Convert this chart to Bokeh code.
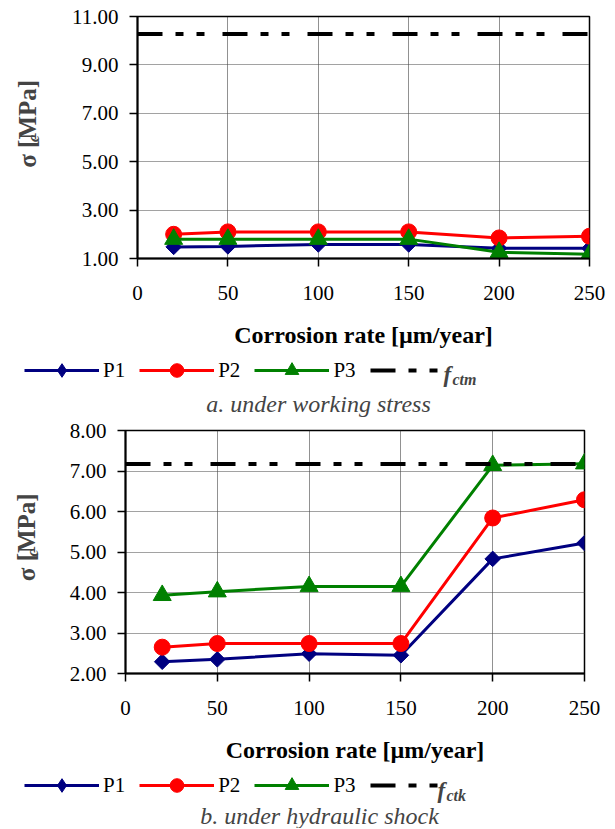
import numpy as np
from bokeh.plotting import figure
from bokeh.models import (FixedTicker, PrintfTickFormatter, Label, Legend,
                          LegendItem, Range1d)
from bokeh.layouts import column, row
from bokeh.embed import file_html
from bokeh.resources import INLINE

# ---------------- data ----------------
rates = [20, 50, 100, 150, 200, 250]
x_ticks = [0, 50, 100, 150, 200, 250]

a_p1 = [1.48, 1.50, 1.58, 1.58, 1.42, 1.42]
a_p2 = [2.00, 2.10, 2.10, 2.10, 1.85, 1.92]
a_p3 = [1.80, 1.80, 1.80, 1.80, 1.26, 1.18]
a_fctm = [10.28, 10.28]
a_yticks = [1, 3, 5, 7, 9, 11]

b_p1 = [2.29, 2.35, 2.49, 2.45, 4.83, 5.22]
b_p2 = [2.65, 2.74, 2.74, 2.74, 5.84, 6.29]
b_p3 = [3.93, 4.02, 4.15, 4.15, 7.14, 7.18]
b_fctk = [7.17, 7.17]
b_yticks = [2, 3, 4, 5, 6, 7, 8]

series_names = ["P1", "P2", "P3"]
colors = ["#000080", "#FF0000", "#008000"]
markers = ["square", "circle", "triangle"]
legend_markers = ["diamond", "circle", "triangle"]
marker_sizes = [11, 16, 18]
marker_angles = [np.pi / 4, 0, 0]

FONT = "Liberation Serif"
DASH = "25 13 8 13 8 18"
PAGE_W = 615
YT_W = 58                 # width of the y-title strip
MAIN_W = PAGE_W - YT_W    # width of the plot figure


def blank(width, height, x0, y0, mb_left=0, mb_top=0):
    """A figure without axes whose data units are page pixels."""
    f = figure(width=width, height=height, output_backend="svg",
               toolbar_location=None, x_axis_type=None, y_axis_type=None,
               min_border_left=mb_left, min_border_right=0,
               min_border_top=mb_top, min_border_bottom=0,
               x_range=Range1d(x0 + mb_left, x0 + width),
               y_range=Range1d(y0 + height, y0 + mb_top),
               outline_line_color=None, background_fill_color="white",
               border_fill_color="white")
    return f


def main_plot(height, mb_left, mb_right, mb_top, mb_bottom, yticks, ys, fvals):
    p = figure(width=MAIN_W, height=height,
               x_range=Range1d(x_ticks[0], x_ticks[-1]),
               y_range=Range1d(yticks[0], yticks[-1]), output_backend="svg",
               toolbar_location=None, min_border_left=mb_left,
               min_border_right=mb_right, min_border_top=mb_top,
               min_border_bottom=mb_bottom, background_fill_color="white",
               border_fill_color="white")
    p.xaxis.ticker = FixedTicker(ticks=x_ticks)
    p.yaxis.ticker = FixedTicker(ticks=yticks)
    p.yaxis.formatter = PrintfTickFormatter(format="%.2f")
    for ax in (p.xaxis, p.yaxis):
        ax.major_tick_out = 8
        ax.major_tick_in = 0
        ax.minor_tick_out = 0
        ax.minor_tick_in = 0
        ax.axis_line_width = 2
        ax.axis_line_color = "black"
        ax.major_tick_line_color = "black"
        ax.major_tick_line_width = 1.5
        ax.major_label_text_font = FONT
        ax.major_label_text_font_size = "21px"
        ax.major_label_text_color = "black"
    p.xaxis.major_label_standoff = 19
    p.yaxis.major_label_standoff = 11
    p.xaxis.axis_label = "Corrosion rate [µm/year]"
    p.xaxis.axis_label_text_font = FONT
    p.xaxis.axis_label_text_font_style = "bold"
    p.xaxis.axis_label_text_font_size = "24px"
    p.xaxis.axis_label_text_color = "black"
    p.xaxis.axis_label_standoff = 19

    p.xgrid.grid_line_color = "#222222"
    p.xgrid.grid_line_dash = "1 1"
    p.ygrid.grid_line_color = "#444444"
    p.ygrid.grid_line_dash = "1 1"
    p.outline_line_color = "black"
    p.outline_line_width = 1.5
    p.outline_line_alpha = 1

    for col, yv, mk, sz, ang in zip(colors, ys, markers, marker_sizes, marker_angles):
        p.line(rates, yv, line_color=col, line_width=3)
        p.scatter(rates, yv, marker=mk, size=sz, angle=ang,
                  fill_color=col, line_color=col)
    p.line([x_ticks[0], x_ticks[-1]], fvals, line_color="black",
           line_width=4, line_dash=DASH)
    return p


def y_title(height, y0, x_c, y_main, y_c):
    f = blank(YT_W, height, 0, y0)
    f.add_layout(Label(x=x_c, y=y_main, text="σ  [MPa]", angle=np.pi / 2,
                       text_font=FONT, text_font_style="bold",
                       text_font_size="25px", text_align="center",
                       text_baseline="middle"))
    f.add_layout(Label(x=x_c + 6, y=y_c, text="c", angle=np.pi / 2,
                       text_font=FONT, text_font_style="bold italic",
                       text_font_size="16px", text_align="center",
                       text_baseline="middle"))
    return f


def legend_strip(height, y0, mb_top, ys, fvals, fsub, f_x, f_base,
                 caption, cap_x, cap_y):
    f = blank(PAGE_W, height, 0, y0, mb_left=24, mb_top=mb_top)
    items = []
    # the series are drawn again here (they fall outside this strip's ranges),
    # only so that the legend can show their samples
    for name, col, yv, mk in zip(series_names, colors, ys, legend_markers):
        lr = f.line(rates, yv, line_color=col, line_width=3)
        sr = f.scatter(rates, yv, marker=mk, size=14,
                       fill_color=col, line_color=col)
        items.append(LegendItem(label=name, renderers=[lr, sr]))
    dr = f.line([x_ticks[0], x_ticks[-1]], fvals, line_color="black",
                line_width=4, line_dash=DASH)
    items.append(LegendItem(label=" ", renderers=[dr]))
    leg = Legend(items=items, orientation="horizontal", location="top_left",
                 glyph_width=75, glyph_height=34, label_standoff=4, spacing=14,
                 padding=0, margin=0, border_line_alpha=0,
                 background_fill_alpha=0, label_text_font=FONT,
                 label_text_font_size="21px", label_text_color="black")
    f.add_layout(leg)
    f.add_layout(Label(x=f_x, y=f_base, text="f", text_font=FONT,
                       text_font_style="bold italic", text_font_size="23px",
                       text_align="left", text_baseline="alphabetic"))
    f.add_layout(Label(x=f_x + 9, y=f_base + 5, text=fsub, text_font=FONT,
                       text_font_style="bold italic", text_font_size="16px",
                       text_align="left", text_baseline="alphabetic"))
    f.add_layout(Label(x=cap_x, y=cap_y, text=caption, text_font=FONT,
                       text_font_style="italic", text_font_size="24px",
                       text_align="center", text_baseline="middle"))
    return f


# ---- panel a (page y 0 .. 418) ----
main_a = main_plot(353, 79, 26, 16, 95, a_yticks, [a_p1, a_p2, a_p3], a_fctm)
yt_a = y_title(353, 0, 27, 152, 178)
leg_a = legend_strip(65, 353, 0, [a_p1, a_p2, a_p3], a_fctm, "ctm", 443, 374,
                     "a. under working stress", 318, 403)

# ---- panel b (page y 418 .. 828) ----
main_b = main_plot(347, 67, 31, 12, 90, b_yticks, [b_p1, b_p2, b_p3], b_fctk)
yt_b = y_title(347, 418, 26, 566, 593)
leg_b = legend_strip(63, 765, 3, [b_p1, b_p2, b_p3], b_fctk, "ctk", 437, 790,
                     "b. under hydraulic shock", 319, 815)

layout = column(row(yt_a, main_a, spacing=0), leg_a,
                row(yt_b, main_b, spacing=0), leg_b, spacing=0)
open("out.html", "w").write(file_html(layout, INLINE))
